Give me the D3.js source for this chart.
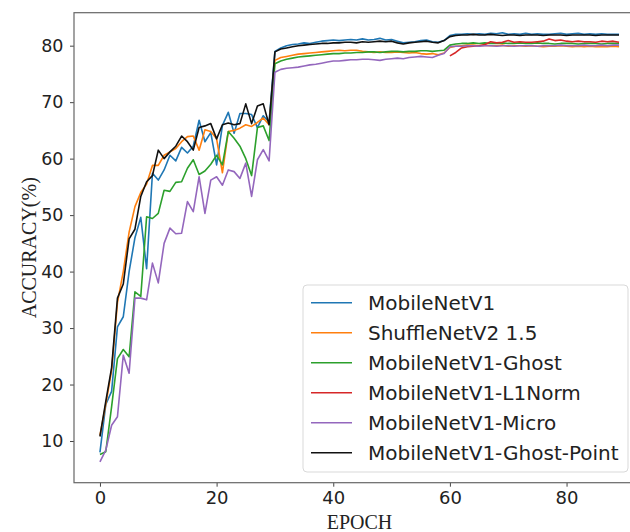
<!DOCTYPE html>
<html>
<head>
<meta charset="utf-8">
<script src="https://cdn.jsdelivr.net/npm/d3@7"></script>
<style>
  body { margin: 0; background: #fff; }
  svg { display: block; }
</style>
</head>
<body>
<svg width="630" height="532"></svg>
<script>
const epochs = d3.range(0, 90)
const l1Epochs = d3.range(60, 90)

const seriesNames = ["MobileNetV1", "ShuffleNetV2 1.5", "MobileNetV1-Ghost", "MobileNetV1-L1Norm", "MobileNetV1-Micro", "MobileNetV1-Ghost-Point"]
const seriesColors = ["#1f77b4", "#ff7f0e", "#2ca02c", "#d62728", "#9467bd", "#111111"]

const mobilenet = [8.0, 16.5, 18.8, 30.2, 32.0, 40.0, 46.0, 49.6, 40.5, 57.4, 56.2, 58.0, 60.6, 59.6, 62.0, 61.0, 62.2, 66.8, 63.0, 64.6, 58.9, 65.9, 68.2, 64.5, 68.0, 68.0, 67.8, 65.5, 67.6, 66.5,
  79.0, 79.6, 80.0, 80.2, 80.3, 80.5, 80.4, 80.6, 80.8, 80.9, 81.0, 80.9, 81.0, 81.1, 81.0, 81.2, 81.0, 81.1, 81.3, 81.0, 81.1, 80.8, 80.5, 80.6, 80.7, 80.9, 81.0, 80.7, 80.6, 80.9,
  81.8, 82.0, 82.0, 82.1, 82.0, 82.1, 82.0, 82.2, 82.1, 82.3, 82.0, 82.1, 82.0, 82.2, 82.0, 82.1, 82.0, 82.0, 82.1, 82.2, 82.0, 82.1, 82.2, 82.0, 82.1, 82.0, 82.1, 82.0, 82.0, 82.0]
const shufflenet = [11.0, 16.5, 22.5, 34.5, 40.0, 47.0, 51.5, 54.0, 55.5, 58.8, 58.8, 60.6, 61.2, 61.8, 63.0, 63.9, 64.0, 61.5, 65.1, 64.8, 63.5, 57.5, 64.8, 65.0, 65.4, 66.0, 65.7, 66.4, 67.2, 66.0,
  77.4, 77.9, 78.1, 78.3, 78.5, 78.6, 78.7, 78.8, 78.9, 79.0, 79.1, 79.2, 79.1, 79.2, 79.2, 79.0, 78.9, 78.8, 78.9, 78.8, 78.8, 78.9, 78.8, 78.7, 78.8, 78.6, 78.5, 78.6, 78.4, 78.7,
  79.7, 79.9, 80.0, 80.1, 80.1, 80.0, 80.1, 80.0, 80.0, 80.1, 79.9, 80.0, 80.0, 79.9, 80.0, 79.9, 79.8, 79.9, 79.9, 80.0, 79.9, 79.8, 79.9, 79.8, 79.9, 79.8, 79.8, 79.8, 79.9, 79.8]
const ghost = [7.6, 8.1, 16.1, 24.6, 26.2, 24.9, 36.4, 35.6, 49.7, 49.4, 50.3, 54.4, 54.2, 55.8, 55.9, 58.3, 59.8, 57.2, 57.8, 59.0, 60.6, 58.9, 64.8, 63.6, 62.2, 60.0, 57.0, 65.5, 65.8, 63.2,
  76.8, 77.3, 77.6, 77.8, 78.0, 78.1, 78.2, 78.3, 78.4, 78.5, 78.6, 78.6, 78.7, 78.7, 78.8, 78.8, 78.9, 78.9, 78.8, 78.9, 79.0, 79.0, 78.9, 79.0, 79.0, 79.1, 79.1, 79.0, 79.1, 79.2,
  80.1, 80.3, 80.4, 80.4, 80.5, 80.4, 80.5, 80.4, 80.4, 80.5, 80.4, 80.4, 80.5, 80.4, 80.4, 80.5, 80.4, 80.4, 80.3, 80.4, 80.4, 80.4, 80.3, 80.4, 80.4, 80.4, 80.3, 80.4, 80.4, 80.4]
const l1norm = [78.2, 78.8, 79.6, 79.8, 79.9, 80.0, 80.2, 80.7, 80.5, 80.6, 80.9, 80.6, 80.7, 80.6, 80.6, 80.7, 80.8, 81.2, 80.9, 81.0, 80.8, 80.7, 80.8, 80.7, 80.7, 80.6, 80.8, 80.7, 80.8, 80.6]
const micro = [6.3, 8.4, 12.8, 14.3, 25.2, 22.0, 35.3, 35.3, 35.0, 41.5, 38.0, 45.0, 47.7, 46.7, 46.8, 52.4, 50.6, 56.8, 50.3, 56.2, 56.8, 55.3, 58.0, 57.7, 56.5, 59.2, 53.3, 59.8, 61.6, 59.6,
  75.3, 75.8, 76.0, 76.1, 76.2, 76.4, 76.6, 76.7, 76.9, 77.1, 77.3, 77.3, 77.4, 77.5, 77.5, 77.6, 77.6, 77.5, 77.4, 77.6, 77.7, 77.8, 77.7, 77.9, 78.0, 78.1, 78.0, 77.9, 78.3, 78.6,
  79.8, 79.9, 79.9, 80.0, 80.0, 79.9, 80.0, 80.0, 79.9, 80.0, 80.0, 79.9, 80.0, 80.0, 80.0, 79.9, 80.0, 80.0, 80.0, 80.1, 80.0, 80.0, 80.0, 80.1, 80.0, 80.0, 80.1, 80.0, 80.1, 80.1]
const ghostPoint = [10.8, 17.0, 23.0, 35.3, 37.8, 45.8, 47.5, 53.3, 55.9, 57.0, 61.5, 60.0, 61.2, 62.2, 64.0, 63.0, 61.5, 65.5, 65.8, 66.2, 63.5, 66.0, 66.3, 66.0, 66.2, 69.7, 66.2, 69.3, 69.7, 66.0,
  78.9, 79.4, 79.6, 79.8, 80.0, 80.1, 80.2, 80.3, 80.4, 80.4, 80.5, 80.5, 80.6, 80.6, 80.5, 80.7, 80.6, 80.7, 80.8, 80.7, 80.8, 80.5, 80.3, 80.5, 80.6, 80.7, 80.8, 80.6, 80.5, 80.9,
  81.6, 81.8, 81.9, 81.9, 82.0, 81.9, 81.9, 82.0, 81.9, 81.8, 81.9, 81.9, 81.8, 81.9, 81.9, 81.9, 81.8, 81.9, 81.9, 81.9, 81.8, 81.9, 81.9, 81.9, 81.9, 81.8, 81.9, 81.9, 81.9, 81.9]

const xTicks = [0, 20, 40, 60, 80]
const yTicks = [10, 20, 30, 40, 50, 60, 70, 80]

// plot box (right side runs past the window, like the cropped figure)
let plotLeft = 74, plotRight = 645, plotTop = 12.7, plotBottom = 482.7

const svg = d3.select("svg")

const x = d3.scaleLinear().domain([-4.45, 93.45]).range([plotLeft, plotRight])
const y = d3.scaleLinear().domain([2.62, 85.84]).range([plotBottom, plotTop])

const seriesData = [
  [epochs, mobilenet],
  [epochs, shufflenet],
  [epochs, ghost],
  [l1Epochs, l1norm],
  [epochs, micro],
  [epochs, ghostPoint]
]

// axes
const xAxis = svg.append("g")
  .attr("transform", `translate(0, ${plotBottom})`)
  .call(d3.axisBottom(x).tickValues(xTicks).tickSize(4).tickPadding(5).tickFormat(d3.format("d")))
xAxis.select(".domain").remove()
xAxis.selectAll("text")
  .attr("font-family", "DejaVu Sans, sans-serif")
  .attr("font-size", "18px")
  .attr("fill", "#222")
xAxis.selectAll("line").attr("stroke", "#444")

const yAxis = svg.append("g")
  .attr("transform", `translate(${plotLeft}, 0)`)
  .call(d3.axisLeft(y).tickValues(yTicks).tickSize(4).tickPadding(6.5).tickFormat(d3.format("d")))
yAxis.select(".domain").remove()
yAxis.selectAll("text")
  .attr("font-family", "DejaVu Sans, sans-serif")
  .attr("font-size", "17.5px")
  .attr("fill", "#222")
yAxis.selectAll("line").attr("stroke", "#444")

// spines
svg.append("rect")
  .attr("x", plotLeft)
  .attr("y", plotTop)
  .attr("width", plotRight - plotLeft)
  .attr("height", plotBottom - plotTop)
  .attr("fill", "none")
  .attr("stroke", "#666")
  .attr("stroke-width", 1.2)

// lines
const line = d3.line()
  .x(d => x(d[0]))
  .y(d => y(d[1]))

const g = svg.append("g")
seriesData.forEach(function(s, i) {
  const pts = s[0].map((e, j) => [e, s[1][j]])
  g.append("path")
    .datum(pts)
    .attr("d", line)
    .attr("fill", "none")
    .attr("stroke", seriesColors[i])
    .attr("stroke-width", 1.6)
    .attr("stroke-linejoin", "round")
})

// legend
const legend = svg.append("g")
legend.append("rect")
  .attr("x", 303)
  .attr("y", 285)
  .attr("width", 325)
  .attr("height", 187)
  .attr("rx", 4)
  .attr("fill", "white")
  .attr("fill-opacity", 0.8)
  .attr("stroke", "#d9d9d9")
  .attr("stroke-width", 1)

seriesNames.forEach(function(name, i) {
  const ly = 302.7 + i * 30
  legend.append("line")
    .attr("x1", 311).attr("x2", 352)
    .attr("y1", ly).attr("y2", ly)
    .attr("stroke", seriesColors[i])
    .attr("stroke-width", 1.6)
  legend.append("text")
    .attr("x", 368)
    .attr("y", ly)
    .attr("dy", "0.36em")
    .attr("font-family", "DejaVu Sans, sans-serif")
    .attr("font-size", "20px")
    .attr("fill", "#222")
    .text(name)
})

// axis labels
svg.append("text")
  .attr("x", 359.5)
  .attr("y", 529)
  .attr("text-anchor", "middle")
  .attr("font-family", "Liberation Serif, serif")
  .attr("font-size", "20px")
  .attr("fill", "#222")
  .text("EPOCH")

svg.append("text")
  .attr("transform", `translate(36, ${(plotTop + plotBottom) / 2}) rotate(-90)`)
  .attr("text-anchor", "middle")
  .attr("font-family", "Liberation Serif, serif")
  .attr("font-size", "20px")
  .attr("fill", "#222")
  .text("ACCURACY(%)")
</script>
</body>
</html>
